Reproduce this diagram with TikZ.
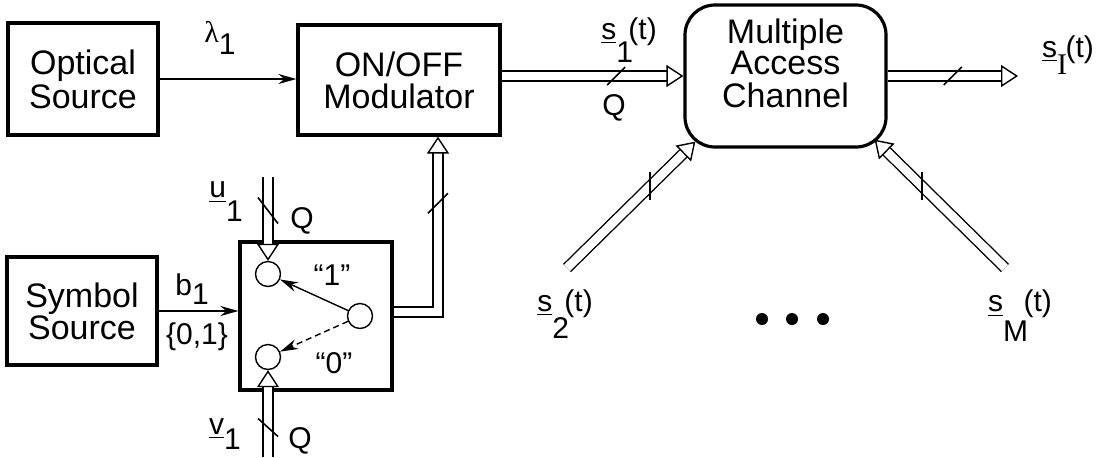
\documentclass[tikz,border=0pt]{standalone}
\usepackage{fontspec}
\setmainfont{Liberation Sans}
\newfontfamily\serifface{Liberation Serif}
\usetikzlibrary{arrows.meta,positioning}

% signal label: underlined s, dropped index, then (t)
\newcommand\sig[2]{\underline{s}\raisebox{#1}{#2}\kern-0.15em(t)}

\begin{document}
\begin{tikzpicture}[x=0.5pt, y=-0.5pt,
  every node/.style={font=\fontsize{15}{16}\selectfont, inner sep=0pt},
  block/.style={draw, line width=1.6pt, align=center, font=\fontsize{17}{16}\selectfont},
  port/.style={draw, circle, line width=0.7pt, minimum size=12.5pt},
  dot/.style={fill, circle, minimum size=6pt},
  wire/.style={line width=0.85pt, -{Stealth[length=9pt, width=5pt]}},
  bus/.style={line width=0.7pt, double distance=4.3pt, -{Triangle[open, length=8.5pt, width=11pt, line width=0.7pt]}},
  tick/.style={line width=0.8pt}]
\useasboundingbox (0,0) rectangle (1108,457);

\node[block, minimum width=75pt, minimum height=56pt] (os) at (83,79) {Optical\\[1pt]Source};
\node[block, minimum width=101pt, minimum height=55pt] (mod) at (399,80) {ON/OFF\\Modulator};
\node[block, rounded corners=15pt, minimum width=100.5pt, minimum height=71pt, align=none] (mac) at (785.5,76)
  {\raisebox{4pt}[\height][\depth]{\begin{tabular}{@{}c@{}}Multiple\\[-1pt]Access\\[-1pt]Channel\end{tabular}}};
\node[block, minimum width=75pt, minimum height=54pt] (sym) at (82,311) {Symbol\\Source};
\node[block, minimum width=76pt, minimum height=74pt] (sw) at (316,316) {};
\node[port] (c1) at (268,274) {};
\node[port] (c0) at (268,357) {};
\node[port] (cs) at (360,316) {};

\coordinate (utop) at (268,177);
\coordinate (vbot) at (268,457);
\coordinate (sout) at (1018,76);
\coordinate (s2end) at (567,268);
\coordinate (sMend) at (1005,268);

% connectors
\draw[wire] (os.east) -- (mod.west |- os.east);
\draw[wire] (sym.east) -- (sw.west |- sym.east);
\draw[wire, line width=0.7pt] (cs) -- (c1);
\draw[wire, line width=0.7pt, dash pattern=on 3pt off 2pt] (cs) -- (c0);
\draw[bus] (mod.east |- mac.west) -- coordinate[pos=0.63] (q1) (mac.west);
\draw[bus] (mac.east) -- coordinate[pos=0.5] (q2) (sout);
\draw[bus] ([yshift=2pt]sw.east) -| coordinate[pos=0.81] (q3) ([xshift=19.5pt]mod.south);
\draw[bus] (utop) -- coordinate[pos=0.4] (q4) (c1.north);
\draw[bus] (vbot) -- coordinate[pos=0.34] (q5) (c0.south);
\draw[bus] (s2end) -- coordinate[pos=0.646] (q6) ([xshift=6pt, yshift=3.5pt]mac.south west);
\draw[bus] (sMend) -- coordinate[pos=0.636] (q7) ([xshift=-6.5pt, yshift=4.5pt]mac.south east);

% width marks
\draw[tick] ([shift={(-9,9)}]q1) -- ([shift={(9,-9)}]q1);
\draw[tick] ([shift={(-9,9)}]q2) -- ([shift={(9,-9)}]q2);
\draw[tick] ([shift={(-10,10)}]q3) -- ([shift={(10,-10)}]q3);
\draw[tick] ([shift={(-10,-13)}]q4) -- ([shift={(10,13)}]q4);
\draw[tick] ([shift={(-10,-9)}]q5) -- ([shift={(10,9)}]q5);
\draw[tick] ([shift={(0,-14)}]q6) -- ([shift={(0,14)}]q6);
\draw[tick] ([shift={(0,-14)}]q7) -- ([shift={(0,14)}]q7);

% labels
\node (lam) at (220,38) {{\serifface λ}\raisebox{-0.4em}{1}};
\node (s1l) at (629,40) {\sig{-0.77em}{1}};
\node (sIl) at (1068,55) {\underline{s}\raisebox{-0.55em}{\serifface I}\kern-0.05em(t)};
\node (s2l) at (565,314) {\sig{-0.9em}{2}};
\node (sMl) at (1020,316) {\sig{-1.0em}{M}};
\node (q1l) at (614,108) {Q};
\node (uq) at (302,221) {Q};
\node (vq) at (300,441) {Q};
\node (ul) at (226,202) {\underline{u}\raisebox{-0.8em}{1}};
\node (vl) at (225,434) {\underline{v}\raisebox{-0.5em}{1}};
\node (bl) at (192,289) {b\raisebox{-0.3em}{1}};
\node (bset) at (197,337) {\{0,1\}};
\node (one) at (332,275) {“1”};
\node (zero) at (334,363) {“0”};
\foreach \x in {762,792,823}
  \node[dot] (d\x) at (\x,319) {};
\end{tikzpicture}
\end{document}
